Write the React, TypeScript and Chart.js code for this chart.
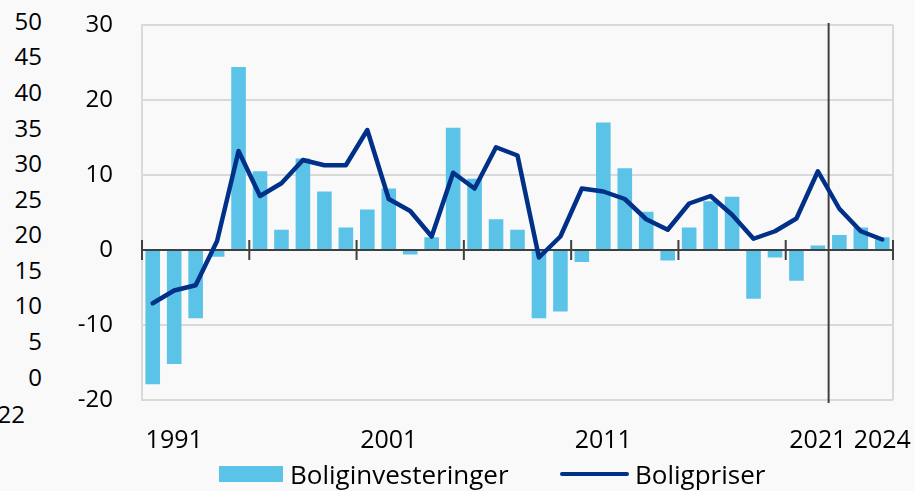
import React, { useEffect, useRef } from 'react';
import { Chart, registerables } from 'chart.js';

Chart.register(...registerables);

// ---- Data ----
const years = [
  '1990', '1991', '1992', '1993', '1994', '1995', '1996', '1997', '1998', '1999',
  '2000', '2001', '2002', '2003', '2004', '2005', '2006', '2007', '2008', '2009',
  '2010', '2011', '2012', '2013', '2014', '2015', '2016', '2017', '2018', '2019',
  '2020', '2021', '2022', '2023', '2024',
];

const boliginvesteringer = [
  -17.9, -15.2, -9.1, -0.9, 24.4, 10.5, 2.7, 12.2, 7.8, 3.0,
  5.4, 8.2, -0.6, 1.7, 16.3, 9.5, 4.1, 2.7, -9.1, -8.2,
  -1.6, 17.0, 10.9, 5.1, -1.4, 3.0, 6.5, 7.1, -6.5, -1.0,
  -4.1, 0.6, 2.0, 3.0, 1.7,
];

const boligpriser = [
  -7.1, -5.4, -4.7, 1.2, 13.2, 7.2, 8.9, 12.0, 11.3, 11.3,
  16.0, 6.8, 5.2, 1.8, 10.3, 8.2, 13.7, 12.6, -1.0, 1.8,
  8.2, 7.8, 6.8, 4.1, 2.7, 6.2, 7.2, 4.7, 1.5, 2.5,
  4.2, 10.5, 5.5, 2.5, 1.4,
];

const shownYearLabels = ['1991', '2001', '2011', '2021', '2024'];
const dividerAfterYear = '2021';
const tickEveryCategories = 5;
const yMin = -20;
const yMax = 30;
const yStep = 10;

// stray left-hand axis labels visible in the reference
const strayAxisLabels = ['50', '45', '40', '35', '30', '25', '20', '15', '10', '5', '0'];
const strayExtraLabel = '22';

const seriesNames = ['Boliginvesteringer', 'Boligpriser'];

// ---- Styles ----
const BAR_COLOR = '#5BC3E8';
const LINE_COLOR = '#003087';
const GRID_COLOR = '#d9d9d9';
const AXIS_DARK = '#404040';
const BG = '#f9f9f9';
const FONT = '"Open Sans", "Noto Sans", sans-serif';

const decorPlugin = {
  id: 'decor',
  beforeDatasetsDraw(chart: any) {
    const { ctx, chartArea } = chart;
    ctx.save();
    ctx.strokeStyle = GRID_COLOR;
    ctx.lineWidth = 2;
    ctx.beginPath();
    ctx.moveTo(chartArea.right, chartArea.top);
    ctx.lineTo(chartArea.right, chartArea.bottom);
    ctx.stroke();
    ctx.restore();
  },
  afterDatasetDraw(chart: any, args: any) {
    if (args.index !== 0) return;
    const { ctx, chartArea, scales } = chart;
    const x = scales.x;
    const y = scales.y;
    const n = chart.data.labels.length;
    const w = (x.right - x.left) / n;
    const zeroY = y.getPixelForValue(0);
    ctx.save();
    ctx.strokeStyle = AXIS_DARK;
    ctx.lineWidth = 2;
    // zero line
    ctx.beginPath();
    ctx.moveTo(chartArea.left, zeroY);
    ctx.lineTo(chartArea.right, zeroY);
    ctx.stroke();
    // tick marks across zero line
    for (let i = 0; i <= n; i += tickEveryCategories) {
      const px = x.left + i * w;
      ctx.beginPath();
      ctx.moveTo(px, zeroY - 10);
      ctx.lineTo(px, zeroY + 10);
      ctx.stroke();
    }
    // divider between actual and projection
    const idx = chart.data.labels.indexOf(dividerAfterYear);
    const dx = (x.getPixelForValue(idx) + x.getPixelForValue(idx + 1)) / 2;
    ctx.beginPath();
    ctx.moveTo(dx, chartArea.top - 2);
    ctx.lineTo(dx, chartArea.bottom + 3);
    ctx.stroke();
    ctx.restore();
  },
};

export default function App() {
  const canvasRef = useRef<HTMLCanvasElement>(null);

  useEffect(() => {
    const canvas = canvasRef.current;
    if (!canvas) return;
    const chart = new Chart(canvas, {
      type: 'bar',
      data: {
        labels: years,
        datasets: [
          {
            type: 'bar',
            label: seriesNames[0],
            data: boliginvesteringer,
            backgroundColor: BAR_COLOR,
            barPercentage: 0.68,
            categoryPercentage: 1,
            order: 2,
          } as any,
          {
            type: 'line',
            label: seriesNames[1],
            data: boligpriser,
            borderColor: LINE_COLOR,
            backgroundColor: LINE_COLOR,
            borderWidth: 4.5,
            pointRadius: 0,
            tension: 0,
            borderCapStyle: 'round',
            borderJoinStyle: 'round',
            order: 1,
          } as any,
        ],
      },
      options: {
        responsive: false,
        animation: false,
        devicePixelRatio: 1,
        layout: { padding: { left: 0, right: 22, top: 25, bottom: 0 } },
        plugins: {
          legend: { display: false },
          tooltip: { enabled: false },
        },
        scales: {
          x: {
            offset: true,
            grid: { display: false },
            border: { display: false },
            ticks: {
              autoSkip: false,
              maxRotation: 0,
              minRotation: 0,
              padding: 18,
              color: '#000',
              font: { family: FONT, size: 25 },
              callback: (_v: any, i: number) =>
                shownYearLabels.includes(years[i]) ? years[i] : '',
            },
            afterFit: (s: any) => {
              s.height = 60;
              s.paddingLeft = 0;
              s.paddingRight = 0;
            },
          },
          y: {
            min: yMin,
            max: yMax,
            ticks: {
              stepSize: yStep,
              padding: 29,
              color: '#000',
              font: { family: FONT, size: 24 },
            },
            grid: {
              color: (c: any) => (c.tick && c.tick.value === 0 ? 'rgba(0,0,0,0)' : GRID_COLOR),
              lineWidth: 2,
              drawTicks: false,
            },
            border: { display: true, color: GRID_COLOR, width: 2 },
            afterFit: (s: any) => {
              s.width = 142;
              s.paddingTop = 0;
              s.paddingBottom = 0;
            },
          },
        },
      } as any,
      plugins: [decorPlugin],
    });
    return () => chart.destroy();
  }, []);

  const textBase: React.CSSProperties = {
    position: 'absolute',
    fontFamily: FONT,
    color: '#000',
    whiteSpace: 'nowrap',
  };

  return (
    <div
      style={{
        position: 'absolute',
        left: 0,
        top: 0,
        width: 915,
        height: 491,
        background: BG,
        overflow: 'hidden',
      }}
    >
      {strayAxisLabels.map((t, i) => (
        <div
          key={t}
          style={{
            ...textBase,
            right: 915 - 42,
            top: 21.7 + i * 35.57 - 12.8,
            fontSize: 24,
            lineHeight: '24px',
            textAlign: 'right',
          }}
        >
          {t}
        </div>
      ))}
      <div
        style={{
          ...textBase,
          right: 915 - 25,
          top: 415 - 12.8,
          fontSize: 24,
          lineHeight: '24px',
          textAlign: 'right',
        }}
      >
        {strayExtraLabel}
      </div>
      <canvas
        ref={canvasRef}
        width={915}
        height={460}
        style={{ position: 'absolute', left: 0, top: 0 }}
      />
      {/* legend */}
      <div
        style={{
          position: 'absolute',
          left: 219,
          top: 466,
          width: 64,
          height: 16,
          background: BAR_COLOR,
        }}
      />
      <div style={{ ...textBase, left: 290, top: 460.5, fontSize: 26, lineHeight: '26px' }}>
        {seriesNames[0]}
      </div>
      <div
        style={{
          position: 'absolute',
          left: 560,
          top: 472,
          width: 69,
          height: 4,
          borderRadius: 2,
          background: LINE_COLOR,
        }}
      />
      <div style={{ ...textBase, left: 635, top: 460.5, fontSize: 26, lineHeight: '26px' }}>
        {seriesNames[1]}
      </div>
    </div>
  );
}
